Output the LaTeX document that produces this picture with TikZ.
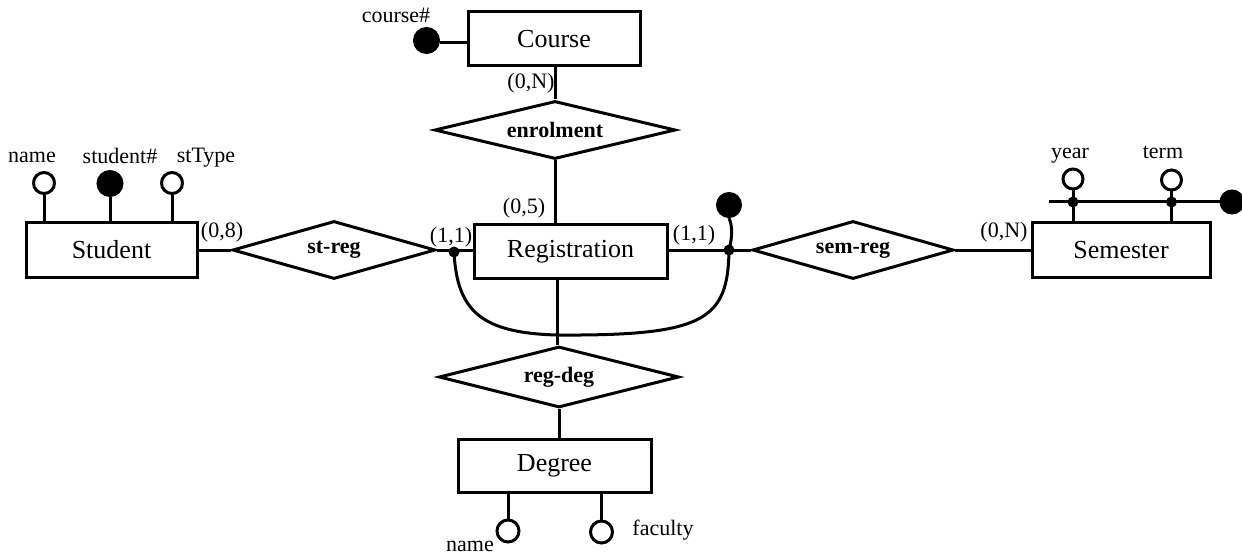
\documentclass[tikz,border=0pt]{standalone}
\usepackage{fontspec}
\setmainfont{Liberation Serif}
\usetikzlibrary{shapes.geometric}
\begin{document}
\begin{tikzpicture}[x=1pt,y=-1pt,
  line width=3pt,
  entity/.style={draw,rectangle,inner sep=0,font=\fontsize{26}{30}\selectfont},
  rel/.style={draw,diamond,aspect=4.2,inner sep=0,font=\fontsize{22}{26}\selectfont\bfseries},
  lbl/.style={inner sep=0,font=\fontsize{22}{26}\selectfont},
  attr/.style={draw,circle,inner sep=0,minimum size=20pt,fill=white},
  keyattr/.style={draw,circle,inner sep=0,minimum size=22pt,fill=black},
  dotnode/.style={circle,fill=black,inner sep=0,minimum size=11pt}]
\useasboundingbox (0,0) rectangle (1242,556);

% entities
\node[entity,minimum width=172pt,minimum height=54pt] (course) at (554,39) {Course};
\node[entity,minimum width=171pt,minimum height=54pt] (student) at (111.5,250) {Student};
\node[entity,minimum width=193pt,minimum height=53pt] (reg) at (570.5,251.5) {Registration};
\node[entity,minimum width=178pt,minimum height=54pt] (sem) at (1121,250) {Semester};
\node[entity,minimum width=193pt,minimum height=53pt] (deg) at (554.5,465.5) {Degree};

% relationships
\node[rel,minimum width=241pt,minimum height=58pt] (enrol) at (555,130) {enrolment};
\node[rel,minimum width=203pt,minimum height=58pt] (streg) at (334,250) {st-reg};
\node[rel,minimum width=201pt,minimum height=58pt] (semreg) at (853,250) {sem-reg};
\node[rel,minimum width=240pt,minimum height=61pt] (regdeg) at (559,377) {reg-deg};

% connectors
\draw (course.south -| enrol.north) -- (enrol.north);
\draw (enrol.south) -- (enrol.south |- reg.north);
\draw (student.east) -- (streg.west);
\draw (streg.east) -- (streg.east -| reg.west);
\draw (semreg.west -| reg.east) -- (semreg.west);
\draw (semreg.east) -- (semreg.east -| sem.west);
\draw (557,278) coordinate (regb) -- (regb |- regdeg.north);
\draw (regdeg.south) -- (regdeg.south |- deg.north);

% cardinalities
\node[lbl] (c1) at (531,83) {(0,N)};
\node[lbl] (c2) at (524,208) {(0,5)};
\node[lbl] (c3) at (222,232) {(0,8)};
\node[lbl] (c4) at (451,237) {(1,1)};
\node[lbl] (c5) at (694,235) {(1,1)};
\node[lbl] (c6) at (1004,232) {(0,N)};

% Course attribute
\node[keyattr,minimum size=24pt] (ckey) at (426.5,40.5) {};
\draw (ckey.east |- 0,42.5) -- (course.west |- 0,42.5);
\node[lbl] (ckeyl) at (396,15) {course\#};

% Student attributes
\node[attr,minimum size=21pt] (sname) at (44,183) {};
\node[keyattr,minimum size=24pt] (skey) at (110,183.5) {};
\node[attr,minimum size=21pt] (stype) at (172,183) {};
\draw (sname.south) -- (sname.south |- student.north);
\draw (skey.south) -- (skey.south |- student.north);
\draw (stype.south) -- (stype.south |- student.north);
\node[lbl] (snamel) at (32,157) {name};
\node[lbl] (skeyl) at (120,156) {student\#};
\node[lbl] (stypel) at (206,158) {stType};

% Registration identifier
\node[dotnode] (dl) at (454,252) {};
\node[dotnode] (dr) at (729,250) {};
\node[keyattr,minimum size=23pt] (rkey) at (729,205) {};
\draw (dl.center) .. controls (457,310) and (480,333) .. (557,335)
      .. controls (705,336) and (728,320) .. (dr.center);
\draw (dr.center) .. controls (733,235) and (732,225) .. (rkey.south);

% Semester attributes
\node[attr] (year) at (1073,179) {};
\node[attr] (term) at (1171.5,180) {};
\node[keyattr,minimum size=22pt] (semkey) at (1232,202) {};
\draw (year.south) -- (year.south |- sem.north);
\draw (term.south) -- (term.south |- sem.north);
\coordinate (semline) at (1049,202);
\draw (semline) -- (semkey.west);
\node[dotnode,minimum size=11pt] (yd) at (1073,202) {};
\node[dotnode,minimum size=11pt] (td) at (1171.5,202) {};
\node[lbl] (yearl) at (1070,156) {year};
\node[lbl] (terml) at (1163,152) {term};

% Degree attributes
\node[attr,minimum size=22pt] (dname) at (508,531) {};
\node[attr,minimum size=22pt] (dfac) at (601.5,532) {};
\draw (dname.north) -- (dname.north |- deg.south);
\draw (dfac.north) -- (dfac.north |- deg.south);
\node[lbl] (dnamel) at (470,546) {name};
\node[lbl] (dfacl) at (663,530) {faculty};
\end{tikzpicture}
\end{document}
